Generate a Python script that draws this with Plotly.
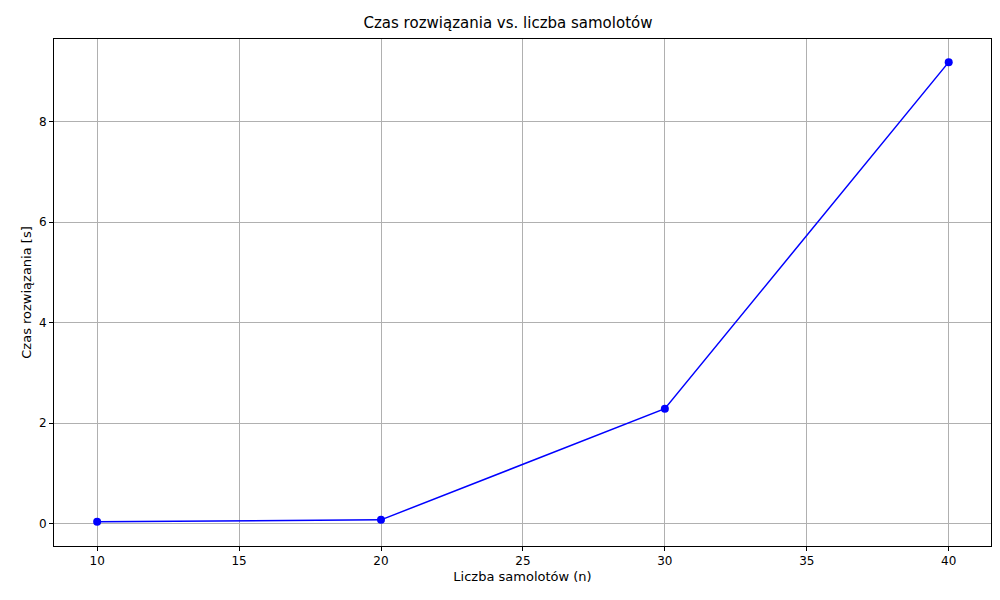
import plotly.graph_objects as go

# liczba samolotów i czas rozwiązania
n_planes = [10, 20, 30, 40]
solve_time = [0.04, 0.08, 2.29, 9.18]

fig = go.Figure()
fig.add_trace(go.Scatter(
    x=n_planes, y=solve_time, mode="lines+markers",
    line=dict(color="blue", width=1.5),
    marker=dict(color="blue", size=8),
))

axis = dict(showline=True, linecolor="black", mirror=True, ticks="outside",
            ticklen=4, tickcolor="black", showgrid=True, gridcolor="#b0b0b0",
            zeroline=False, tickfont=dict(size=12, color="black"))

fig.update_layout(
    width=1000, height=600,
    plot_bgcolor="white", paper_bgcolor="white",
    font=dict(family="DejaVu Sans", color="black"),
    margin=dict(l=46, r=17, t=31, b=62, autoexpand=False),
    showlegend=False,
    title=dict(text="Czas rozwiązania vs. liczba samolotów", x=0.5, xanchor="center",
               y=0.975, yanchor="middle", font=dict(size=15)),
    xaxis=dict(axis, range=[8.48, 41.49], tickvals=[10, 15, 20, 25, 30, 35, 40],
               title=dict(text="Liczba samolotów (n)", font=dict(size=13), standoff=4)),
    yaxis=dict(axis, range=[-0.44, 9.64], tickvals=[0, 2, 4, 6, 8],
               title=dict(text="Czas rozwiązania [s]", font=dict(size=13), standoff=4)),
)

fig.write_html("out.html")
